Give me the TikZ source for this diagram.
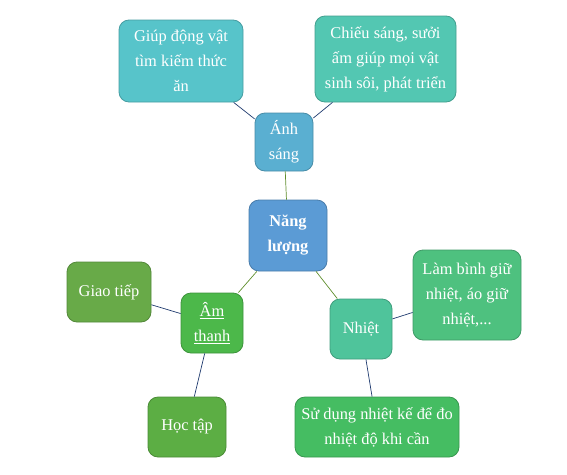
\documentclass[tikz,border=0pt]{standalone}
\usepackage{fontspec}
\setmainfont{Liberation Serif}
\usepackage{tikz}
\usetikzlibrary{positioning}

\definecolor{tealA}{HTML}{57C4CA}
\definecolor{tealB}{HTML}{53C7B2}
\definecolor{skyA}{HTML}{5AAFD1}
\definecolor{blueA}{HTML}{5B9BD5}
\definecolor{oliveA}{HTML}{68AA48}
\definecolor{greenA}{HTML}{4CB84A}
\definecolor{mintA}{HTML}{4FC49B}
\definecolor{greenB}{HTML}{4EC17F}
\definecolor{greenC}{HTML}{5CAE44}
\definecolor{greenD}{HTML}{45BD62}
\definecolor{navyline}{HTML}{1F3A6E}
\definecolor{oliveline}{HTML}{5F8E2C}

\begin{document}
\begin{tikzpicture}[
    x=1pt, y=-1pt,
    font=\fontsize{16.4}{25}\selectfont,
    box/.style={draw=#1!80!black, fill=#1, rounded corners=10pt,
        text=white, align=center, inner sep=0pt, line width=0.8pt},
    link/.style={draw=navyline, line width=0.7pt},
    trunk/.style={draw=oliveline, line width=0.7pt}
]
    \useasboundingbox (0,0) rectangle (567,474);

    % Centre
    \node[box=blueA, minimum width=78pt, minimum height=71pt, font=\fontsize{16.4}{25}\selectfont\bfseries]
        (nang) at (288,235.5) {Năng\\lượng};

    % Branches
    \node[box=skyA, minimum width=58pt, minimum height=58pt] (anh) at (284,142) {Ánh\\sáng};
    \node[box=greenA, minimum width=62pt, minimum height=60pt] (am) at (212,323) {\underline{Âm}\\\underline{thanh}};
    \node[box=mintA, minimum width=62pt, minimum height=60pt] (nhiet) at (361,329) {Nhiệt};

    % Leaves
    \node[box=tealA, minimum width=124pt, minimum height=82pt] (giup) at (181,61)
        {Giúp động vật\\tìm kiếm thức\\ăn};
    \node[box=tealB, minimum width=141pt, minimum height=86pt] (chieu) at (385.5,59)
        {Chiếu sáng, sưởi\\ấm giúp mọi vật\\sinh sôi, phát triển};
    \node[box=oliveA, minimum width=84pt, minimum height=60pt] (giao) at (109,292) {Giao tiếp};
    \node[box=greenC, minimum width=78pt, minimum height=60pt] (hoc) at (187,427) {Học tập};
    \node[box=greenB, minimum width=108pt, minimum height=90pt] (lam) at (467,295)
        {Làm bình giữ\\nhiệt, áo giữ\\nhiệt,...};
    \node[box=greenD, minimum width=164pt, minimum height=60pt] (sudung) at (377,427)
        {Sử dụng nhiệt kế để đo\\nhiệt độ khi cần};

    % Connectors
    \draw[trunk] (nang) -- (anh);
    \draw[trunk] (nang) -- (am);
    \draw[trunk] (nang) -- (nhiet);
    \draw[link] (anh) -- (giup);
    \draw[link] (anh) -- (chieu);
    \draw[link] (am) -- (giao);
    \draw[link] (am) -- (hoc);
    \draw[link] (nhiet) -- (lam);
    \draw[link] (nhiet) -- (sudung);

\end{tikzpicture}
\end{document}
